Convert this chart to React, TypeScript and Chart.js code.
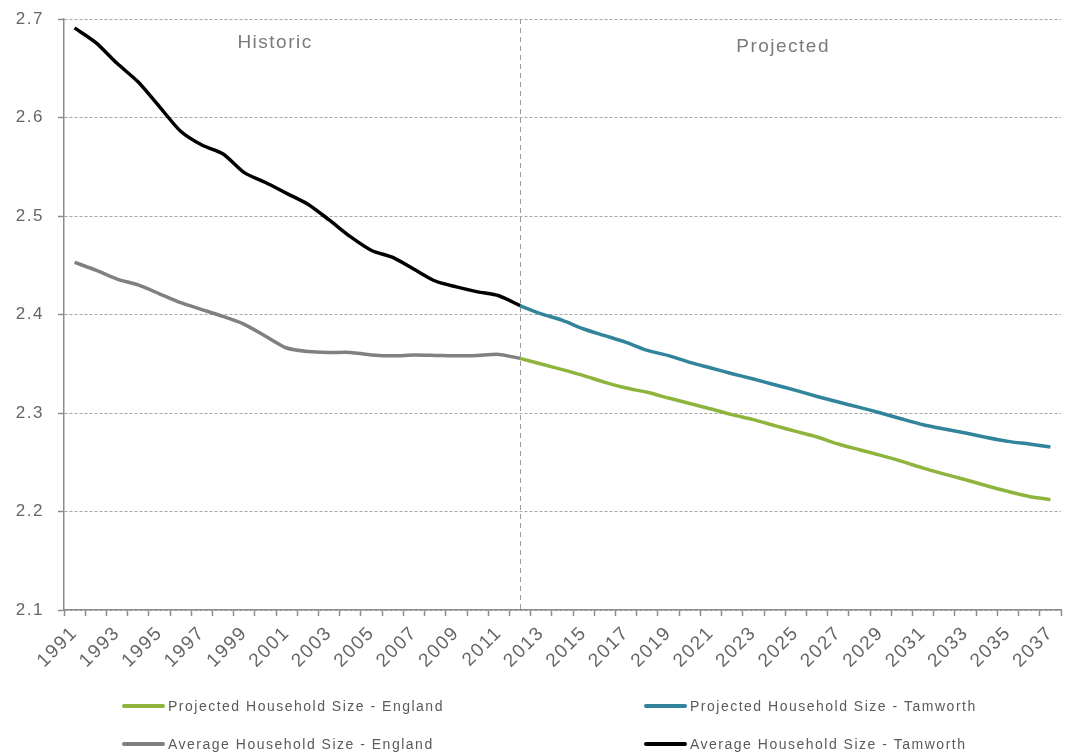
import { useEffect, useRef } from 'react';
import { Chart, registerables } from 'chart.js';

Chart.register(...registerables);

// Year categories on the x axis
const years = [
  '1991', '1992', '1993', '1994', '1995', '1996', '1997', '1998', '1999', '2000',
  '2001', '2002', '2003', '2004', '2005', '2006', '2007', '2008', '2009', '2010',
  '2011', '2012', '2013', '2014', '2015', '2016', '2017', '2018', '2019', '2020',
  '2021', '2022', '2023', '2024', '2025', '2026', '2027', '2028', '2029', '2030',
  '2031', '2032', '2033', '2034', '2035', '2036', '2037',
];

// Historic averages, 1991–2012
const avgEngland = [
  2.453, 2.445, 2.436, 2.43, 2.421, 2.412, 2.405, 2.398, 2.39, 2.378,
  2.366, 2.3625, 2.3615, 2.3615, 2.359, 2.358, 2.3588, 2.3585, 2.358, 2.3585,
  2.3595, 2.3555,
];
const avgTamworth = [
  2.691, 2.676, 2.655, 2.636, 2.611, 2.586, 2.572, 2.563, 2.544, 2.534,
  2.523, 2.512, 2.496, 2.479, 2.465, 2.458, 2.446, 2.434, 2.428, 2.423,
  2.419, 2.409,
];

// Projections, 2012–2037
const projEngland = [
  2.3555, 2.3497, 2.344, 2.338, 2.3311, 2.3254, 2.321, 2.3152, 2.3096, 2.3041,
  2.2983, 2.2933, 2.2872, 2.2813, 2.2756, 2.2685, 2.2627, 2.257, 2.2509, 2.2441,
  2.238, 2.2322, 2.2261, 2.2204, 2.2153, 2.212,
];
const projTamworth = [
  2.409, 2.4006, 2.394, 2.3853, 2.3785, 2.3717, 2.3636, 2.3582, 2.3514, 2.3457,
  2.3399, 2.3345, 2.3287, 2.323, 2.3168, 2.3111, 2.3057, 2.3, 2.2939, 2.2881,
  2.2837, 2.2797, 2.2752, 2.2712, 2.2685, 2.2655,
];

const yTicks = [2.1, 2.2, 2.3, 2.4, 2.5, 2.6, 2.7];

const splitYear = '2012';
const periodLabels = ['Historic', 'Projected'];

const FONT = '"Liberation Sans", Arial, sans-serif';
const SPACING = '1.5px';

const splitIndex = years.indexOf(splitYear);
const historic = (vals: number[]) =>
  years.map((_, i) => (i < vals.length ? vals[i] : null));
const projected = (vals: number[]) =>
  years.map((_, i) => (i >= splitIndex ? vals[i - splitIndex] : null));

const setSpacing = (chart: any) => {
  chart.ctx.letterSpacing = SPACING;
};

// keep tick-label overhang from pushing the plot area around
const clearPadding = (scale: any) => {
  scale.paddingTop = 0;
  scale.paddingBottom = 0;
  scale.paddingLeft = 0;
  scale.paddingRight = 0;
};

const decorPlugin = {
  id: 'decor',
  beforeUpdate: setSpacing,
  beforeLayout: setSpacing,
  beforeDraw: setSpacing,
  beforeDatasetsDraw(chart: any) {
    const { ctx, chartArea, scales } = chart;
    const x = Math.round(scales.x.getPixelForValue(splitIndex)) + 0.5;
    ctx.save();
    ctx.strokeStyle = '#9a9a9a';
    ctx.lineWidth = 1;
    ctx.setLineDash([5, 4]);
    ctx.beginPath();
    ctx.moveTo(x, chartArea.top);
    ctx.lineTo(x, chartArea.bottom);
    ctx.stroke();
    ctx.restore();
  },
  afterDraw(chart: any) {
    const { ctx, chartArea, scales } = chart;
    ctx.save();
    ctx.letterSpacing = SPACING;
    // period captions
    ctx.font = `19px ${FONT}`;
    ctx.fillStyle = '#7a7a7a';
    ctx.textAlign = 'center';
    ctx.textBaseline = 'alphabetic';
    ctx.fillText(periodLabels[0], scales.x.getPixelForValue(9.45), chartArea.top + 29);
    ctx.fillText(periodLabels[1], scales.x.getPixelForValue(33.4), chartArea.top + 33);

    // legend, two columns
    const order = [3, 2, 1, 0];
    const cols = [122, 644];
    const rows = [chartArea.bottom + 96, chartArea.bottom + 134];
    ctx.font = `14px ${FONT}`;
    ctx.textAlign = 'left';
    ctx.textBaseline = 'middle';
    order.forEach((dsIndex, k) => {
      const ds = chart.data.datasets[dsIndex];
      const x0 = cols[k % 2];
      const y0 = rows[Math.floor(k / 2)];
      ctx.strokeStyle = ds.borderColor;
      ctx.lineWidth = 4;
      ctx.lineCap = 'round';
      ctx.setLineDash([]);
      ctx.beginPath();
      ctx.moveTo(x0 + 2, y0);
      ctx.lineTo(x0 + 41, y0);
      ctx.stroke();
      ctx.fillStyle = '#5a5a5a';
      ctx.fillText(ds.label, x0 + 46, y0 + 1);
    });
    ctx.restore();
  },
};

export default function App() {
  const canvasRef = useRef<HTMLCanvasElement | null>(null);

  useEffect(() => {
    const canvas = canvasRef.current;
    if (!canvas) return;
    const line = {
      borderWidth: 3.5,
      pointRadius: 0,
      pointHoverRadius: 0,
      tension: 0.25,
      fill: false,
      spanGaps: false,
    };
    const chart = new Chart(canvas, {
      type: 'line',
      data: {
        labels: years,
        datasets: [
          { ...line, label: 'Average Household Size - Tamworth', data: historic(avgTamworth), borderColor: '#000000' },
          { ...line, label: 'Average Household Size - England', data: historic(avgEngland), borderColor: '#808080' },
          { ...line, label: 'Projected Household Size - Tamworth', data: projected(projTamworth), borderColor: '#31849b' },
          { ...line, label: 'Projected Household Size - England', data: projected(projEngland), borderColor: '#8fb43d' },
        ],
      },
      options: {
        responsive: false,
        animation: false,
        events: [],
        layout: { padding: { left: 0, right: 5, top: 19, bottom: 75 } },
        plugins: {
          legend: { display: false },
          tooltip: { enabled: false },
          title: { display: false },
        },
        scales: {
          x: {
            type: 'category',
            offset: true,
            grid: {
              offset: true,
              drawOnChartArea: false,
              drawTicks: true,
              tickLength: 6,
              tickColor: '#8c8c8c',
              tickWidth: 1.5,
            },
            border: { display: true, color: '#8c8c8c', width: 1.5 },
            ticks: {
              autoSkip: false,
              minRotation: 45,
              maxRotation: 45,
              padding: 6,
              color: '#666666',
              font: { family: FONT, size: 19 },
              callback: (_v: any, i: number) => (i % 2 === 0 ? years[i] : ''),
            },
            afterFit: (scale: any) => {
              scale.height = 70;
              clearPadding(scale);
            },
          },
          y: {
            min: yTicks[0],
            max: yTicks[yTicks.length - 1],
            afterBuildTicks: (scale: any) => {
              scale.ticks = yTicks.map((v) => ({ value: v }));
            },
            grid: {
              color: '#a6a6a6',
              lineWidth: 1,
              drawTicks: true,
              tickLength: 6,
              tickColor: '#8c8c8c',
              tickWidth: 1.5,
            },
            border: { display: true, color: '#8c8c8c', width: 1.5, dash: [3, 2] },
            ticks: {
              padding: 14,
              color: '#666666',
              font: { family: FONT, size: 17 },
              callback: (v: any) => Number(v).toFixed(1),
            },
            afterFit: (scale: any) => {
              scale.width = 64;
              clearPadding(scale);
            },
          },
        },
      },
      plugins: [decorPlugin],
    });
    return () => chart.destroy();
  }, []);

  return (
    <div style={{ position: 'fixed', left: 0, top: 0, width: 1066, height: 755, background: '#ffffff' }}>
      <canvas ref={canvasRef} width={1066} height={755} style={{ display: 'block' }} />
    </div>
  );
}
